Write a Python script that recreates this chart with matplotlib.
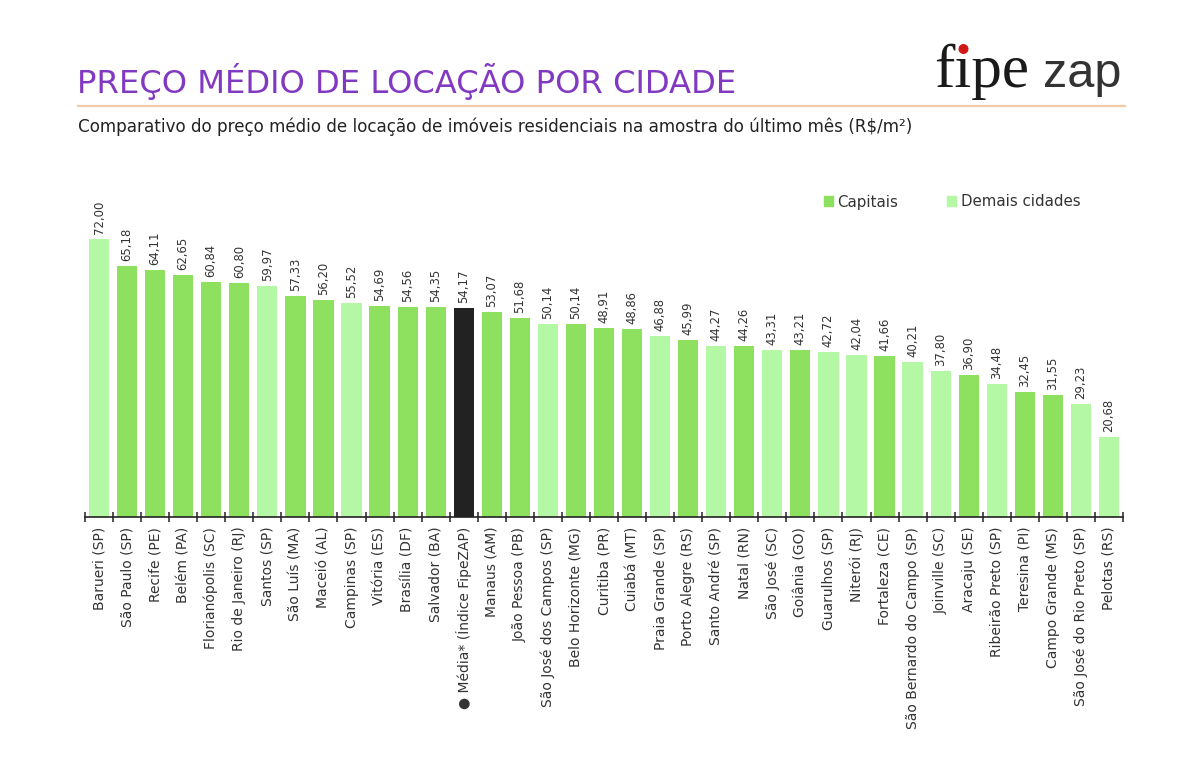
import matplotlib.pyplot as plt
from matplotlib.patches import Patch, Circle
from matplotlib.lines import Line2D

cidades = ["Barueri (SP)", "São Paulo (SP)", "Recife (PE)", "Belém (PA)",
           "Florianópolis (SC)", "Rio de Janeiro (RJ)", "Santos (SP)", "São Luís (MA)",
           "Maceió (AL)", "Campinas (SP)", "Vitória (ES)", "Brasília (DF)",
           "Salvador (BA)", "● Média* (Índice FipeZAP)", "Manaus (AM)", "João Pessoa (PB)",
           "São José dos Campos (SP)", "Belo Horizonte (MG)", "Curitiba (PR)", "Cuiabá (MT)",
           "Praia Grande (SP)", "Porto Alegre (RS)", "Santo André (SP)", "Natal (RN)",
           "São José (SC)", "Goiânia (GO)", "Guarulhos (SP)", "Niterói (RJ)",
           "Fortaleza (CE)", "São Bernardo do Campo (SP)", "Joinville (SC)", "Aracaju (SE)",
           "Ribeirão Preto (SP)", "Teresina (PI)", "Campo Grande (MS)",
           "São José do Rio Preto (SP)", "Pelotas (RS)"]
precos = [72.00, 65.18, 64.11, 62.65, 60.84, 60.80, 59.97, 57.33, 56.20, 55.52,
          54.69, 54.56, 54.35, 54.17, 53.07, 51.68, 50.14, 50.14, 48.91, 48.86,
          46.88, 45.99, 44.27, 44.26, 43.31, 43.21, 42.72, 42.04, 41.66, 40.21,
          37.80, 36.90, 34.48, 32.45, 31.55, 29.23, 20.68]
# C = capital, D = demais cidades, M = media
tipo = ["D", "C", "C", "C", "C", "C", "D", "C", "C", "D",
        "C", "C", "C", "M", "C", "C", "D", "C", "C", "C",
        "D", "C", "D", "C", "D", "C", "D", "D", "C", "D",
        "D", "C", "D", "C", "C", "D", "D"]

cores = {"C": "#8ee05f", "D": "#b4f8a6", "M": "#222222"}
roxo = "#8239c2"

fig = plt.figure(figsize=(12, 7.64), dpi=100)
W, H = 1200, 764

def fx(px):
    return px / W

def fy(py):
    return 1 - py / H

# header
fig.text(fx(77), fy(82), "PREÇO MÉDIO DE LOCAÇÃO POR CIDADE", color=roxo,
         fontsize=23.2, va="center", ha="left")
fig.add_artist(Line2D([fx(78), fx(1125)], [fy(106), fy(106)], color="#f2cba5", lw=1.6))
fig.text(fx(78), fy(127), "Comparativo do preço médio de locação de imóveis residenciais "
         "na amostra do último mês (R$/m²)", color="#222222", fontsize=12.1,
         va="center", ha="left")

# logo
fig.text(fx(934), fy(87), "f\u0131pe", family="Liberation Serif", fontsize=44,
         color="#1a1a1a", ha="left", va="baseline")
fig.text(fx(1043), fy(87), "zap", family="Liberation Sans", fontsize=35,
         color="#333333", ha="left", va="baseline")
fig.add_artist(Circle((963.5, H - 49), 4.3, transform=None, color="#d01818", zorder=5))

ax = fig.add_axes([fx(85), fy(517), fx(1123) - fx(85), 347 / H])
x = list(range(len(cidades)))
ax.bar(x, precos, width=0.72, color=[cores[t] for t in tipo])

for xi, v in zip(x, precos):
    ax.text(xi, v + 1.3, f"{v:.2f}".replace(".", ","), rotation=90, ha="center",
            va="bottom", fontsize=8.4, color="#333333")

ax.set_xlim(-0.5, len(cidades) - 0.5)
ax.set_ylim(0, 90)
for s in ["top", "right", "left"]:
    ax.spines[s].set_visible(False)
ax.spines["bottom"].set_color("#222222")
ax.spines["bottom"].set_linewidth(1.2)
ax.set_yticks([])
ax.set_xticks(x)
ax.set_xticklabels(cidades, rotation=90, fontsize=10, color="#333333")
ax.tick_params(axis="x", length=0, pad=7)
ax.set_xticks([i - 0.5 for i in range(len(cidades) + 1)], minor=True)
ax.tick_params(axis="x", which="minor", length=7, direction="inout", width=1.1,
               color="#222222")

handles = [Patch(color=cores["C"], label="Capitais"),
           Patch(color=cores["D"], label="Demais cidades")]
fig.legend(handles=handles, ncol=2, frameon=False, loc="center left",
           bbox_to_anchor=(fx(810), fy(202)), fontsize=10.8, handlelength=0.6,
           handleheight=0.6, handletextpad=0.3, columnspacing=3.3,
           labelcolor="#333333")

fig.savefig("out.png", dpi=100, facecolor="white")
